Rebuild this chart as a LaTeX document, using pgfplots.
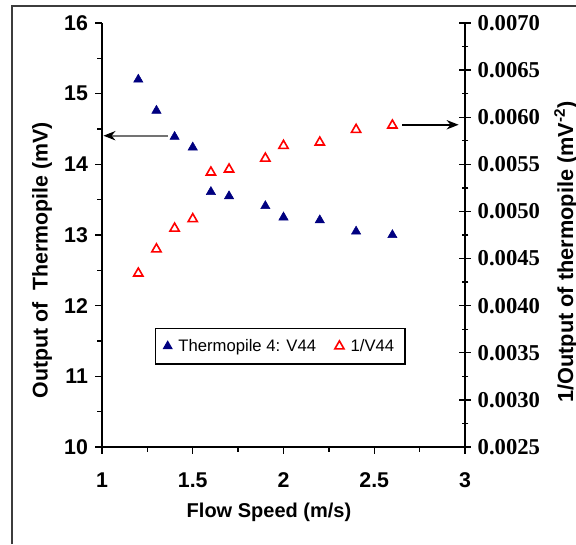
\documentclass[border=0pt]{standalone}
\usepackage{fontspec}
\setmainfont{Liberation Sans}
\newfontfamily\timesfont{Liberation Serif}
\usepackage{pgfplots}
\pgfplotsset{compat=1.18}
\usetikzlibrary{arrows.meta}
\definecolor{navyblue}{RGB}{0,0,128}
\definecolor{frame}{RGB}{60,60,60}

\begin{document}
\begin{tikzpicture}
% chart area border (cropped at right and bottom)
\draw[frame,line width=1.5pt] (8.8pt,0pt) -- (8.8pt,403.7pt) -- (432pt,403.7pt);

\begin{axis}[at={(76.5pt,72.75pt)},anchor=south west,
 scale only axis,width=272.25pt,height=318pt,
 xmin=1,xmax=3,ymin=10,ymax=16,
 xtick={1,1.5,2,2.5,3},minor x tick num=1,
 ytick={10,11,12,13,14,15,16},minor y tick num=1,
 axis x line*=bottom,axis y line*=left,
 axis line style={line width=1pt,-},
 tick align=outside,tick style={black,line width=1pt},
 major tick length=5pt,minor tick length=3.5pt,
 /pgf/number format/assume math mode=true,
 tick label style={font=\fontsize{16}{17}\selectfont\bfseries},
 yticklabel style={xshift=-2pt},
 xticklabel style={yshift=-11pt},
 xlabel={Flow Speed (m/s)},
 xlabel style={font=\fontsize{15}{16}\selectfont\bfseries,at={(rel axis cs:0.46,-0.153)},anchor=center},
 ylabel={Output of\ \ Thermopile (mV)},
 ylabel style={font=\fontsize{16}{17}\selectfont\bfseries,at={(rel axis cs:-0.165,0.44)},anchor=center},
 clip=false]
\addplot[only marks,mark=triangle*,mark size=4pt,color=navyblue,mark options={fill=navyblue}]
 coordinates {(1.2,15.20) (1.3,14.76) (1.4,14.39) (1.5,14.24) (1.6,13.61) (1.7,13.55)
 (1.9,13.41) (2.0,13.25) (2.2,13.21) (2.4,13.05) (2.6,13.00)};
\draw[black!55,line width=1.3pt,-{Stealth[color=black,length=9pt,width=7pt]}]
 (axis cs:1.364,14.405) -- (axis cs:1.008,14.405);
\end{axis}

\begin{axis}[at={(76.5pt,72.75pt)},anchor=south west,
 scale only axis,width=272.25pt,height=318pt,
 xmin=1,xmax=3,ymin=0.0025,ymax=0.0070,
 axis x line=none,axis y line*=right,
 ytick={0.0025,0.0030,0.0035,0.0040,0.0045,0.0050,0.0055,0.0060,0.0065,0.0070},
 minor y tick num=1,
 axis line style={line width=1pt,-},
 tick align=center,tick style={black,line width=1pt},
 major tick length=9pt,minor tick length=5pt,
 scaled y ticks=false,
 /pgf/number format/assume math mode=true,
 yticklabel style={font=\fontsize{17}{18}\selectfont\timesfont\bfseries,
  /pgf/number format/fixed,/pgf/number format/fixed zerofill,/pgf/number format/precision=4,xshift=1.5pt},
 ylabel={1/Output of thermopile (mV\textsuperscript{-2})},
 ylabel style={font=\fontsize{16.3}{17}\selectfont\bfseries,at={(rel axis cs:1.278,0.46)},anchor=center},
 legend style={at={(rel axis cs:0.146,0.281)},anchor=north west,draw=black,line width=1pt,
  font=\fontsize{12.5}{13}\selectfont,inner xsep=6pt,inner ysep=6pt,
  /tikz/every odd column/.append style={column sep=3pt},
  /tikz/every even column/.append style={column sep=12pt}},
 legend columns=2,
 clip=false]
\addlegendimage{only marks,mark=triangle*,mark size=3.5pt,color=navyblue,mark options={fill=navyblue}}
\addlegendentry{Thermopile 4: V44}
\addplot[only marks,mark=triangle*,mark size=4pt,color=red,mark options={fill=white,line width=1.2pt}]
 coordinates {(1.2,0.004343) (1.3,0.004600) (1.4,0.004820) (1.5,0.004920) (1.6,0.005415) (1.7,0.005447)
 (1.9,0.005563) (2.0,0.005698) (2.2,0.005733) (2.4,0.005868) (2.6,0.005914)};
\addlegendentry{1/V44}
\draw[black,line width=1.2pt,-{Stealth[length=9pt,width=7pt]}]
 (axis cs:2.653,0.00592) -- (axis cs:2.965,0.00592);
\end{axis}
\pgfresetboundingbox
\useasboundingbox (0pt,0pt) rectangle (432pt,408pt);
\end{tikzpicture}
\end{document}
